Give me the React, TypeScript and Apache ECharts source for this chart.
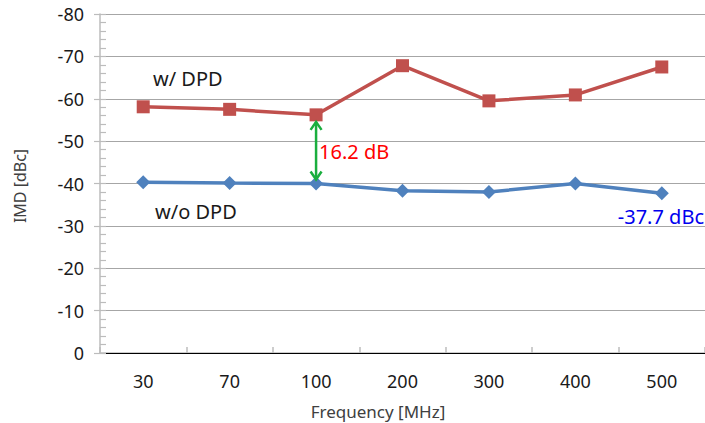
import React, { useEffect, useRef } from "react";
import * as echarts from "echarts";

const categories = ["30", "70", "100", "200", "300", "400", "500"];
const withDPD = [-58.1, -57.5, -56.2, -67.8, -59.5, -60.9, -67.5];
const withoutDPD = [-40.3, -40.1, -40.0, -38.3, -38.0, -40.0, -37.7];
const yMin = -80;
const yMax = 0;
const yStep = 10;
const yMinorStep = 2;
const gapIndex = 2;

const FONT = "'Noto Sans', 'Open Sans', sans-serif";

export default function App() {
  const ref = useRef<HTMLDivElement>(null);
  useEffect(() => {
    const chart = echarts.init(ref.current!, null, { renderer: "svg" });
    chart.setOption({
      animation: false,
      backgroundColor: "#ffffff",
      grid: { left: 100, right: 0, top: 14, bottom: 70 },
      xAxis: [
        {
          type: "category",
          data: categories,
          boundaryGap: true,
          axisLine: { show: true, lineStyle: { color: "#bcbcbc", width: 1.5 } },
          axisTick: { show: true, inside: true, length: 6, lineStyle: { color: "#bcbcbc", width: 1.5 } },
          axisLabel: { color: "#1a1a1a", fontSize: 18, fontFamily: FONT, margin: 19 },
          splitLine: { show: false },
        },
        {
          type: "category",
          data: categories,
          position: "top",
          axisLine: { show: true, lineStyle: { color: "#000000", width: 1.2 } },
          axisTick: { show: false },
          axisLabel: { show: false },
          splitLine: { show: false },
        },
      ],
      yAxis: [
        {
          type: "value",
          min: yMin,
          max: yMax,
          interval: yStep,
          inverse: true,
          axisLine: { show: true, lineStyle: { color: "#bcbcbc", width: 1.5 } },
          axisTick: { show: true, inside: false, length: 6, lineStyle: { color: "#bcbcbc", width: 1.2 } },
          axisLabel: { color: "#1a1a1a", fontSize: 18, fontFamily: FONT, margin: 16 },
          splitLine: { show: true, lineStyle: { color: "#a6a6a6", width: 1.2 } },
        },
        {
          type: "value",
          min: yMin,
          max: yMax,
          interval: yMinorStep,
          inverse: true,
          position: "left",
          axisLine: { show: false },
          axisTick: { show: true, inside: true, length: 6, lineStyle: { color: "#bcbcbc", width: 1.2 } },
          axisLabel: { show: false },
          splitLine: { show: false },
        },
      ],
      series: [
        {
          name: "w/ DPD",
          type: "line",
          data: withDPD,
          xAxisIndex: 0,
          yAxisIndex: 0,
          symbol: "rect",
          symbolSize: 13,
          lineStyle: { color: "#c0504d", width: 3.5 },
          itemStyle: { color: "#c0504d" },
          z: 3,
        },
        {
          name: "w/o DPD",
          type: "line",
          data: withoutDPD,
          xAxisIndex: 0,
          yAxisIndex: 0,
          symbol: "diamond",
          symbolSize: 14,
          lineStyle: { color: "#4f81bd", width: 3.5 },
          itemStyle: { color: "#4f81bd" },
          z: 3,
        },
      ],
    });

    const pTop = chart.convertToPixel({ xAxisIndex: 0, yAxisIndex: 0 }, [gapIndex, withDPD[gapIndex]]) as number[];
    const pBot = chart.convertToPixel({ xAxisIndex: 0, yAxisIndex: 0 }, [gapIndex, withoutDPD[gapIndex]]) as number[];
    const pLast = chart.convertToPixel(
      { xAxisIndex: 0, yAxisIndex: 0 },
      [categories.length - 1, withoutDPD[withoutDPD.length - 1]]
    ) as number[];
    const x = pTop[0];
    const yTop = pTop[1] + 7;
    const yBot = pBot[1] - 4;
    const green = "#1aae3e";
    const gap = Math.abs(withDPD[gapIndex] - withoutDPD[gapIndex]).toFixed(1);

    chart.setOption({
      graphic: [
        {
          type: "line",
          shape: { x1: x, y1: yTop, x2: x, y2: yBot },
          style: { stroke: green, lineWidth: 2.5 },
          z: 10,
        },
        {
          type: "polyline",
          shape: { points: [[x - 5.5, yTop + 8], [x, yTop], [x + 5.5, yTop + 8]] },
          style: { stroke: green, lineWidth: 2.5, fill: "none" },
          z: 10,
        },
        {
          type: "polyline",
          shape: { points: [[x - 5.5, yBot - 8], [x, yBot], [x + 5.5, yBot - 8]] },
          style: { stroke: green, lineWidth: 2.5, fill: "none" },
          z: 10,
        },
        {
          type: "text",
          x: x + 3,
          y: (yTop + yBot) / 2 + 1,
          style: { text: `${gap} dB`, fill: "#ff0000", fontSize: 20, fontFamily: FONT, verticalAlign: "middle" },
          z: 10,
        },
        {
          type: "text",
          x: pLast[0] - 44,
          y: pLast[1] + 23,
          style: {
            text: `${withoutDPD[withoutDPD.length - 1]} dBc`,
            fill: "#0000ee",
            fontSize: 20,
            fontFamily: FONT,
            verticalAlign: "middle",
          },
          z: 10,
        },
        {
          type: "text",
          x: 153,
          y: 78,
          style: { text: "w/ DPD", fill: "#1a1a1a", fontSize: 20, fontFamily: FONT, verticalAlign: "middle" },
          z: 10,
        },
        {
          type: "text",
          x: 155,
          y: 211,
          style: { text: "w/o DPD", fill: "#1a1a1a", fontSize: 20, fontFamily: FONT, verticalAlign: "middle" },
          z: 10,
        },
        {
          type: "text",
          x: 378,
          y: 411,
          style: {
            text: "Frequency [MHz]",
            fill: "#404040",
            fontSize: 17,
            fontFamily: FONT,
            align: "center",
            verticalAlign: "middle",
          },
        },
        {
          type: "text",
          x: 20,
          y: 186,
          rotation: Math.PI / 2,
          style: {
            text: "IMD [dBc]",
            fill: "#404040",
            fontSize: 16,
            fontFamily: FONT,
            align: "center",
            verticalAlign: "middle",
          },
        },
      ],
    });

    return () => chart.dispose();
  }, []);

  return (
    <div
      ref={ref}
      style={{ position: "fixed", left: 0, top: 0, width: 705, height: 423, background: "#fff" }}
    />
  );
}
